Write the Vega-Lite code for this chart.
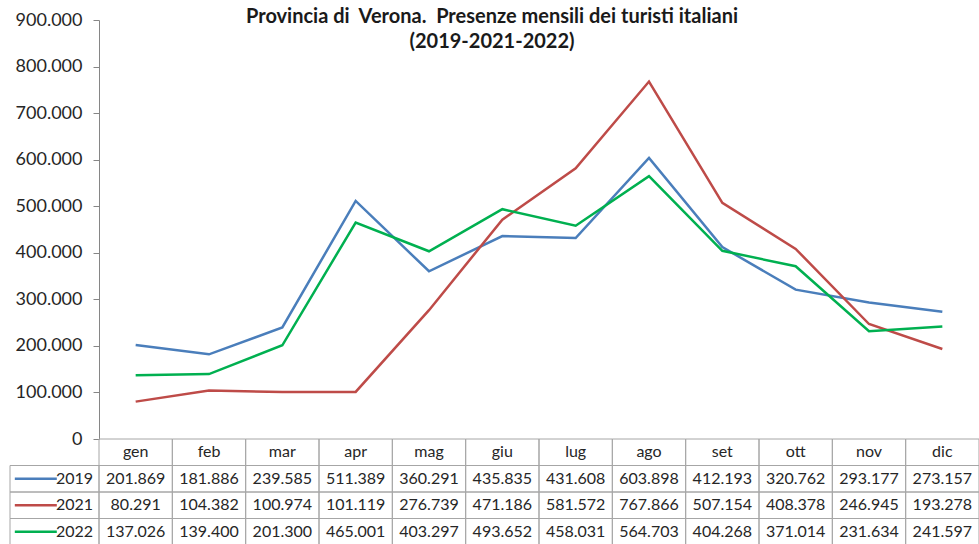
{
  "$schema": "https://vega.github.io/schema/vega-lite/v6.json",
  "width": 880,
  "height": 419,
  "autosize": "none",
  "padding": {"left": 99, "top": 20, "right": 0, "bottom": 105},
  "background": "white",
  "config": {
    "locale": {"number": {"decimal": ",", "thousands": ".", "grouping": [3], "currency": ["", " €"]}},
    "view": {"stroke": null},
    "font": "Lato"
  },
  "title": {
    "text": ["Provincia di\u00a0\u00a0Verona.\u00a0\u00a0Presenze mensili dei turisti italiani", "(2019-2021-2022)"],
    "font": "Lato",
    "fontSize": 20,
    "fontWeight": "bold",
    "color": "#1a1a1a",
    "anchor": "middle",
    "frame": "group",
    "baseline": "top",
    "lineHeight": 25,
    "dx": -47,
    "dy": 41,
    "offset": 0
  },
  "data": {
    "values": [
      {"year": "2019", "month": "gen", "value": 201869},
      {"year": "2019", "month": "feb", "value": 181886},
      {"year": "2019", "month": "mar", "value": 239585},
      {"year": "2019", "month": "apr", "value": 511389},
      {"year": "2019", "month": "mag", "value": 360291},
      {"year": "2019", "month": "giu", "value": 435835},
      {"year": "2019", "month": "lug", "value": 431608},
      {"year": "2019", "month": "ago", "value": 603898},
      {"year": "2019", "month": "set", "value": 412193},
      {"year": "2019", "month": "ott", "value": 320762},
      {"year": "2019", "month": "nov", "value": 293177},
      {"year": "2019", "month": "dic", "value": 273157},
      {"year": "2021", "month": "gen", "value": 80291},
      {"year": "2021", "month": "feb", "value": 104382},
      {"year": "2021", "month": "mar", "value": 100974},
      {"year": "2021", "month": "apr", "value": 101119},
      {"year": "2021", "month": "mag", "value": 276739},
      {"year": "2021", "month": "giu", "value": 471186},
      {"year": "2021", "month": "lug", "value": 581572},
      {"year": "2021", "month": "ago", "value": 767866},
      {"year": "2021", "month": "set", "value": 507154},
      {"year": "2021", "month": "ott", "value": 408378},
      {"year": "2021", "month": "nov", "value": 246945},
      {"year": "2021", "month": "dic", "value": 193278},
      {"year": "2022", "month": "gen", "value": 137026},
      {"year": "2022", "month": "feb", "value": 139400},
      {"year": "2022", "month": "mar", "value": 201300},
      {"year": "2022", "month": "apr", "value": 465001},
      {"year": "2022", "month": "mag", "value": 403297},
      {"year": "2022", "month": "giu", "value": 493652},
      {"year": "2022", "month": "lug", "value": 458031},
      {"year": "2022", "month": "ago", "value": 564703},
      {"year": "2022", "month": "set", "value": 404268},
      {"year": "2022", "month": "ott", "value": 371014},
      {"year": "2022", "month": "nov", "value": 231634},
      {"year": "2022", "month": "dic", "value": 241597}
    ]
  },
  "layer": [
    {
      "mark": {"type": "line", "strokeWidth": 2.5},
      "encoding": {
        "x": {"field": "month", "type": "nominal", "sort": null,
              "scale": {"type": "point", "domain": ["gen","feb","mar","apr","mag","giu","lug","ago","set","ott","nov","dic"], "range": [0, 880], "padding": 0.5},
              "axis": null},
        "y": {"field": "value", "type": "quantitative",
              "scale": {"domain": [0, 900000], "nice": false, "range": [419, 0]},
              "axis": {"values": [0,100000,200000,300000,400000,500000,600000,700000,800000,900000],
                       "format": ",.0f", "grid": false, "title": null,
                       "domainColor": "#868686", "tickColor": "#868686", "tickSize": 6,
                       "labelFont": "Lato", "labelFontSize": 18, "labelColor": "#262626", "labelPadding": 11}},
        "color": {"field": "year", "type": "nominal",
                  "scale": {"domain": ["2019","2021","2022"], "range": ["#4a7ebb","#be4b48","#00b050"]},
                  "legend": null}
      }
    },
    {
      "transform": [{"filter": "datum.year == '2019'"}],
      "mark": {"type": "rect", "fillOpacity": 0, "stroke": "#a6a6a6", "strokeWidth": 1},
      "encoding": {
        "x": {"field": "month", "type": "nominal", "sort": null,
              "scale": {"type": "band", "domain": ["gen","feb","mar","apr","mag","giu","lug","ago","set","ott","nov","dic"], "range": [0, 880], "paddingInner": 0, "paddingOuter": 0},
              "axis": null},
        "y": {"datum": "hdr", "type": "nominal",
              "scale": {"type": "band", "domain": ["hdr","2019","2021","2022"], "range": [419, 525], "paddingInner": 0, "paddingOuter": 0},
              "axis": null}
      }
    },
    {
      "transform": [{"filter": "datum.year == '2019'"}],
      "mark": {"type": "text", "fontSize": 16, "font": "Lato", "color": "#262626", "baseline": "middle", "align": "center"},
      "encoding": {
        "x": {"field": "month", "type": "nominal", "sort": null, "bandPosition": 0.5,
              "scale": {"type": "band", "domain": ["gen","feb","mar","apr","mag","giu","lug","ago","set","ott","nov","dic"], "range": [0, 880], "paddingInner": 0, "paddingOuter": 0},
              "axis": null},
        "y": {"datum": "hdr", "type": "nominal",
              "scale": {"type": "band", "domain": ["hdr","2019","2021","2022"], "range": [419, 525], "paddingInner": 0, "paddingOuter": 0},
              "axis": null},
        "text": {"field": "month", "type": "nominal"}
      }
    },
    {
      "mark": {"type": "rect", "fillOpacity": 0, "stroke": "#a6a6a6", "strokeWidth": 1},
      "encoding": {
        "x": {"field": "month", "type": "nominal", "sort": null,
              "scale": {"type": "band", "domain": ["gen","feb","mar","apr","mag","giu","lug","ago","set","ott","nov","dic"], "range": [0, 880], "paddingInner": 0, "paddingOuter": 0},
              "axis": null},
        "y": {"field": "year", "type": "nominal",
              "scale": {"type": "band", "domain": ["hdr","2019","2021","2022"], "range": [419, 525], "paddingInner": 0, "paddingOuter": 0},
              "axis": null}
      }
    },
    {
      "mark": {"type": "text", "fontSize": 16, "font": "Lato", "color": "#262626", "baseline": "middle", "align": "center"},
      "encoding": {
        "x": {"field": "month", "type": "nominal", "sort": null, "bandPosition": 0.5,
              "scale": {"type": "band", "domain": ["gen","feb","mar","apr","mag","giu","lug","ago","set","ott","nov","dic"], "range": [0, 880], "paddingInner": 0, "paddingOuter": 0},
              "axis": null},
        "y": {"field": "year", "type": "nominal", "bandPosition": 0.5,
              "scale": {"type": "band", "domain": ["hdr","2019","2021","2022"], "range": [419, 525], "paddingInner": 0, "paddingOuter": 0},
              "axis": null},
        "text": {"field": "value", "type": "quantitative", "format": ","}
      }
    },
    {
      "transform": [{"filter": "datum.month == 'gen'"}],
      "mark": {"type": "rect", "fillOpacity": 0, "stroke": "#a6a6a6", "strokeWidth": 1},
      "encoding": {
        "x": {"datum": "k", "type": "nominal",
              "scale": {"type": "band", "domain": ["k"], "range": [-89, 0], "paddingInner": 0, "paddingOuter": 0},
              "axis": null},
        "y": {"field": "year", "type": "nominal",
              "scale": {"type": "band", "domain": ["hdr","2019","2021","2022"], "range": [419, 525], "paddingInner": 0, "paddingOuter": 0},
              "axis": null}
      }
    },
    {
      "transform": [{"filter": "datum.month == 'gen'"}],
      "mark": {"type": "point", "shape": "stroke", "size": 1764, "strokeWidth": 2.5, "opacity": 1},
      "encoding": {
        "x": {"datum": "k", "type": "nominal", "bandPosition": 0.29,
              "scale": {"type": "band", "domain": ["k"], "range": [-89, 0], "paddingInner": 0, "paddingOuter": 0},
              "axis": null},
        "y": {"field": "year", "type": "nominal", "bandPosition": 0.5,
              "scale": {"type": "band", "domain": ["hdr","2019","2021","2022"], "range": [419, 525], "paddingInner": 0, "paddingOuter": 0},
              "axis": null},
        "color": {"field": "year", "type": "nominal", "legend": null}
      }
    },
    {
      "transform": [{"filter": "datum.month == 'gen'"}],
      "mark": {"type": "text", "fontSize": 16, "font": "Lato", "color": "#262626", "baseline": "middle", "align": "right"},
      "encoding": {
        "x": {"datum": "k", "type": "nominal", "bandPosition": 0.933,
              "scale": {"type": "band", "domain": ["k"], "range": [-89, 0], "paddingInner": 0, "paddingOuter": 0},
              "axis": null},
        "y": {"field": "year", "type": "nominal", "bandPosition": 0.5,
              "scale": {"type": "band", "domain": ["hdr","2019","2021","2022"], "range": [419, 525], "paddingInner": 0, "paddingOuter": 0},
              "axis": null},
        "text": {"field": "year", "type": "nominal"}
      }
    }
  ],
  "resolve": {"scale": {"x": "independent", "y": "independent"}}
}
